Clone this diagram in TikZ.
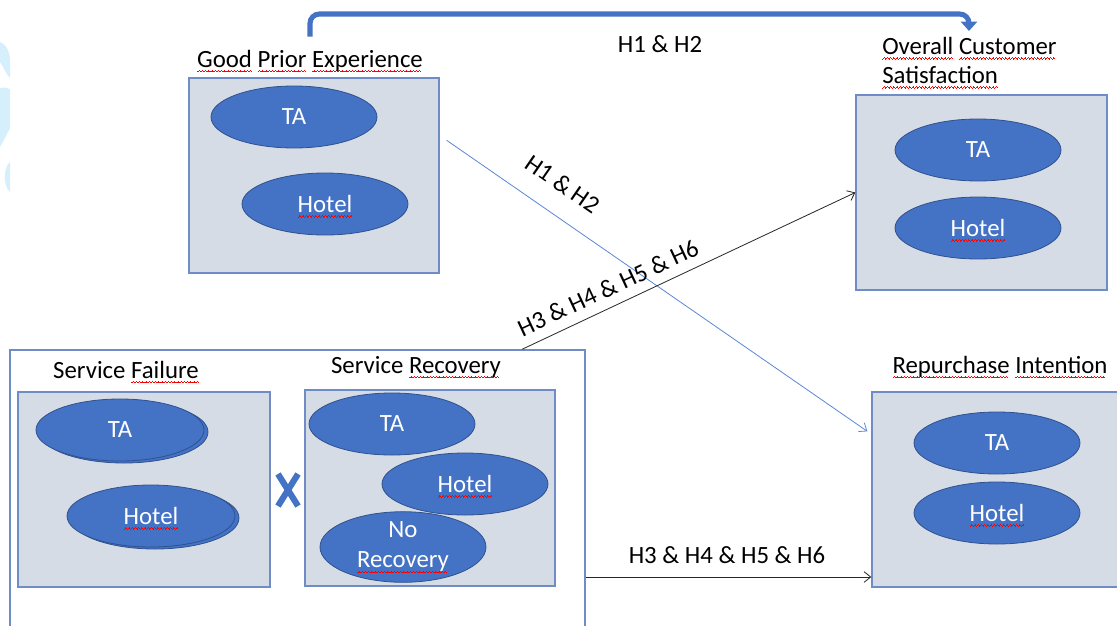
\documentclass[tikz,border=0pt]{standalone}
\usepackage{fontspec}
\setmainfont{Carlito}
\usetikzlibrary{arrows.meta,shapes.geometric,calc}
\definecolor{eblue}{HTML}{4472C4}
\definecolor{eedge}{HTML}{2F528F}
\definecolor{bfill}{HTML}{D6DCE5}
\definecolor{bedge}{HTML}{6F8CC7}
\definecolor{lblue}{HTML}{5B87D6}
\definecolor{wmark}{HTML}{D5F0FC}
\newsavebox\rwbox
\newcommand\rw[1]{\sbox\rwbox{#1}\rlap{\smash{\textcolor{red}{\hbox to \wd\rwbox{\leaders\hbox{\rule[-3.9pt]{0.6pt}{0.55pt}\rule[-3.3pt]{0.6pt}{0.55pt}\rule[-2.7pt]{0.6pt}{0.55pt}\rule[-3.3pt]{0.6pt}{0.55pt}}\hfill}}}}\usebox\rwbox}
\tikzset{
  box/.style={rectangle, draw=bedge, line width=1pt, fill=bfill, inner sep=0pt},
  ell/.style={ellipse, draw=eedge, line width=0.6pt, fill=eblue, text=white, inner sep=0pt,
              minimum width=124.5pt, minimum height=46.5pt, align=center},
  lbl/.style={inner sep=0pt, text=black},
  conn/.style={-{Straight Barb[length=5pt,width=8pt]}, line width=0.6pt},
  topar/.style={eblue, line width=3.8pt, rounded corners=7pt, -{Triangle[length=7pt,width=12pt]}}
}
\begin{document}
\begin{tikzpicture}[x=0.75pt, y=-0.75pt, font=\fontsize{18.6}{22}\selectfont]
\clip (0,0) rectangle (1117,625);
\fill[white] (0,0) rectangle (1117,625);
% watermark fragments on the left edge
\fill[wmark] (0,42) .. controls (6,44) and (10,52) .. (10,60) -- (10,78) .. controls (6,74) and (3,66) .. (0,62) -- cycle;
\fill[wmark] (0,88) .. controls (5,87) and (9,88) .. (10,90) -- (10,128) .. controls (6,136) and (3,142) .. (0,147) -- cycle;
\fill[wmark] (10,162) .. controls (3,168) and (3,186) .. (10,192) -- cycle;

% boxes
\node[box, minimum width=187.5pt, minimum height=146.25pt] (gpe) at (314,175.5) {};
\node[box, minimum width=188.25pt, minimum height=146.25pt] (ocs) at (981.5,192.5) {};
\node[box, minimum width=189.75pt, minimum height=146.25pt] (ri) at (998.5,489.5) {};
\node[box, fill=white, minimum width=431.25pt, minimum height=217.5pt] (outer) at (297.5,495) {};
\node[box, minimum width=189pt, minimum height=146.25pt] (sf) at (144,489.5) {};
\node[box, minimum width=187.5pt, minimum height=147pt] (sr) at (430,488) {};

% titles
\node[lbl, anchor=base] (gpel) at (310,67) {\rw{Good} \rw{Prior} \rw{Experience}};
\node[lbl, anchor=north west, align=left, font=\fontsize{18.6}{21.75}\selectfont] (ocsl) at (882,37) {\rw{Overall} \rw{Customer}\\\rw{Satisfaction}};
\node[lbl, anchor=base] (ril) at (1000,373) {\rw{Repurchase} \rw{Intention}};
\node[lbl, anchor=base] (sfl) at (126,378) {Service \rw{Failure}};
\node[lbl, anchor=base] (srl) at (416,373) {Service \rw{Recovery}};

% ellipses
\node[ell] (gta) at (294,117) {TA};
\node[ell] (gho) at (325,204) {\rw{Hotel}};
\node[ell] (ota) at (978,150) {TA};
\node[ell] (oho) at (978,228) {\rw{Hotel}};
\node[ell] (rta) at (997,443) {TA};
\node[ell] (rho) at (997,513) {\rw{Hotel}};
\node[ell, minimum width=126pt] (sfta2) at (124,432) {};
\node[ell, minimum width=126pt] (sfta) at (120,430) {TA};
\node[ell, minimum width=126pt] (sfho2) at (155,518) {};
\node[ell, minimum width=126pt] (sfho) at (151,516) {\rw{Hotel}};
\node[ell] (srta) at (392,424) {TA};
\node[ell] (srho) at (465,484) {\rw{Hotel}};
\node[ell, font=\fontsize{18.6}{22.5}\selectfont] (srno) at (403,547) {No\\\rw{Recovery}};

% X between failure and recovery
\draw[eblue, line width=4.6pt] (278,474) -- (298,506) (298,474) -- (278,506);

% top arrow
\coordinate (t1) at ($(gpel.north)+(0,-13)$);
\coordinate (t2) at (969,31);
\draw[topar] (t1) -- (t1 |- 0,14) -- (969,14) -- (t2);
\node[lbl, anchor=base] (h12a) at (660,52) {H1 \& H2};

% diagonal connectors
\coordinate (d1s) at ($(gpe.north east)+(7,63)$);
\coordinate (d1e) at ($(ri.north west)+(-4,40)$);
\draw[conn, lblue] (d1s) -- (d1e);
\node[lbl, rotate=-34.6] (h12b) at (563,184) {H1 \& H2};

\coordinate (d2s) at ($(outer.north)+(224.5,0)$);
\draw[conn, black!85] (d2s) -- (ocs.west);
\node[lbl, rotate=25] (h36a) at (608,288) {H3 \& H4 \& H5 \& H6};

\coordinate (d3s) at ($(outer.east)+(0,82)$);
\draw[conn, black!85] (d3s) -- (d3s -| ri.west);
\node[lbl, anchor=base] (h36b) at (727,563) {H3 \& H4 \& H5 \& H6};
\end{tikzpicture}
\end{document}
